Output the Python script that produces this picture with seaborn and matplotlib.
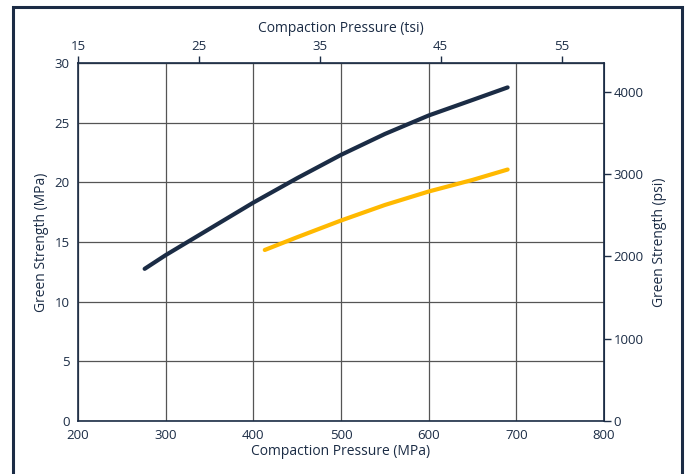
import numpy as np
import pandas as pd
import seaborn as sns
import matplotlib.pyplot as plt
from matplotlib.patches import Rectangle

# navy curve
navy_mpa = [276, 300, 350, 400, 450, 500, 550, 600, 650, 690]
navy_strength = [12.75, 13.9, 16.1, 18.3, 20.35, 22.3, 24.05, 25.6, 26.9, 27.95]

# yellow curve
gold_mpa = [413, 450, 500, 550, 600, 650, 690]
gold_strength = [14.33, 15.4, 16.8, 18.1, 19.23, 20.2, 21.07]

x_ticks = [200, 300, 400, 500, 600, 700, 800]
y_ticks = [0, 5, 10, 15, 20, 25, 30]
tsi_ticks = [15, 25, 35, 45, 55]
psi_ticks = [0, 1000, 2000, 3000, 4000]

NAVY = "#1b2c45"
GOLD = "#ffb900"
MPA_PER_TSI = 13.79
PSI_PER_MPA = 145.04

sns.set_style("white")
plt.rcParams['font.family'] = ['Open Sans', 'DejaVu Sans']
plt.rcParams['text.color'] = NAVY
plt.rcParams['axes.labelcolor'] = NAVY
plt.rcParams['xtick.color'] = NAVY
plt.rcParams['ytick.color'] = NAVY

df1 = pd.DataFrame({"mpa": navy_mpa, "strength": navy_strength})
df2 = pd.DataFrame({"mpa": gold_mpa, "strength": gold_strength})

fig = plt.figure(figsize=(6.88, 4.74), dpi=100)
ax = fig.add_axes([0.1134, 0.1118, 0.7646, 0.7554])

sns.lineplot(data=df1, x="mpa", y="strength", ax=ax, color=NAVY, linewidth=3.0,
             solid_capstyle="round", solid_joinstyle="round")
sns.lineplot(data=df2, x="mpa", y="strength", ax=ax, color=GOLD, linewidth=3.0,
             solid_capstyle="round", solid_joinstyle="round")

ax.set_xlim(200, 800)
ax.set_ylim(0, 30)
ax.set_xticks(x_ticks)
ax.set_yticks(y_ticks)
ax.grid(True, color="#555555", linewidth=0.9)
ax.set_axisbelow(True)
ax.tick_params(axis="both", length=0, labelsize=9.5, pad=6)
ax.set_xlabel("Compaction Pressure (MPa)", fontsize=10, labelpad=1)
ax.set_ylabel("Green Strength (MPa)", fontsize=10, labelpad=4)
for s in ax.spines.values():
    s.set_color(NAVY)
    s.set_linewidth(1.2)

top = ax.secondary_xaxis("top", functions=(lambda m: 15 + (m - 200) / MPA_PER_TSI,
                                          lambda t: 200 + (t - 15) * MPA_PER_TSI))
top.set_xticks(tsi_ticks)
top.tick_params(length=5, width=1, labelsize=9.5, pad=2, color=NAVY)
top.set_xlabel("Compaction Pressure (tsi)", fontsize=10, labelpad=6)

right = ax.secondary_yaxis("right", functions=(lambda m: m * PSI_PER_MPA,
                                              lambda p: p / PSI_PER_MPA))
right.set_yticks(psi_ticks)
right.tick_params(length=5, width=1, labelsize=9.5, pad=2, color=NAVY)
right.set_ylabel("Green Strength (psi)", fontsize=10, labelpad=6)
for sp in list(top.spines.values()) + list(right.spines.values()):
    sp.set_color(NAVY)

# outer frame
fig.patches.append(Rectangle((0.019, -0.05), 0.973, 1.035, transform=fig.transFigure,
                             fill=False, edgecolor=NAVY, linewidth=2.2))

fig.savefig("out.png", dpi=100)
